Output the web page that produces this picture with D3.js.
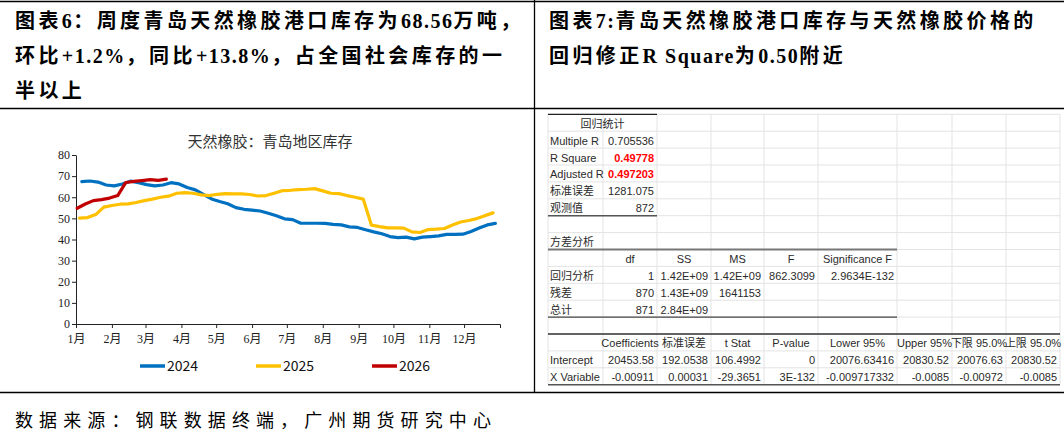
<!DOCTYPE html>
<html>
<head>
<meta charset="utf-8">
<script src="https://cdn.jsdelivr.net/npm/d3@7"></script>
<style>
  body { margin: 0; background: #fff; }
  svg { display: block; }
</style>
</head>
<body>
<div id="page"></div>
<script>
// ---- text of the two panels ----
var leftTitle = ["图表6：周度青岛天然橡胶港口库存为68.56万吨，",
                 "环比+1.2%，同比+13.8%，占全国社会库存的一",
                 "半以上"];
var rightTitle = ["图表7:青岛天然橡胶港口库存与天然橡胶价格的",
                  "回归修正R Square为0.50附近"];
var sourceNote = "数据来源：钢联数据终端，广州期货研究中心";

// ---- left chart: weekly Qingdao stock, 万吨 ----
var chartTitle = "天然橡胶：青岛地区库存";
var monthLabels = ["1月","2月","3月","4月","5月","6月","7月","8月","9月","10月","11月","12月"];
var monthStarts = [0, 31, 60, 91, 121, 152, 182, 213, 244, 274, 305, 335];
var seriesNames = ["2024", "2025", "2026"];
var seriesStart = ["2024-01-06", "2025-01-04", "2026-01-02"];
var stock2024 = [67.4, 67.7, 67.2, 65.8, 65.4, 66.3, 67.6, 66.9, 66.0, 65.4, 65.8, 66.9, 66.3,
                 64.6, 63.5, 61.4, 59.2, 58.0, 56.9, 55.1, 54.3, 53.9, 53.5, 52.4, 51.2, 49.8,
                 49.4, 47.7, 47.7, 47.7, 47.6, 47.2, 46.9, 46.0, 45.7, 44.6, 43.6, 42.7, 41.4,
                 40.9, 41.1, 40.3, 41.1, 41.4, 41.7, 42.4, 42.4, 42.5, 43.8, 45.4, 46.9, 47.6];
var stock2025 = [50.1, 50.4, 51.8, 55.3, 56.1, 56.7, 56.9, 57.5, 58.4, 59.1, 60.0, 60.5, 61.9,
                 62.2, 61.9, 61.1, 60.8, 61.4, 61.7, 61.6, 61.6, 61.3, 60.6, 60.8, 61.9, 63.1,
                 63.3, 63.6, 63.8, 64.1, 63.0, 61.9, 61.7, 60.8, 60.0, 59.1, 46.8, 46.1, 45.5,
                 45.5, 45.4, 43.6, 43.3, 44.7, 44.9, 45.2, 46.9, 48.3, 49.0, 49.9, 51.3, 52.6];
var stock2026 = [54.8, 56.8, 58.4, 58.9, 59.6, 60.8, 67.0, 67.5, 67.9, 68.3, 68.0, 68.56];

// ---- right panel: Excel regression output ----
var regStatHeader = "回归统计";
var regStatLabels = ["Multiple R", "R Square", "Adjusted R", "标准误差", "观测值"];
var regStatValues = ["0.705536", "0.49778", "0.497203", "1281.075", "872"];
var anovaTitle = "方差分析";
var anovaHeader = ["df", "SS", "MS", "F", "Significance F"];
var anovaLabels = ["回归分析", "残差", "总计"];
var anovaValues = [["1", "1.42E+09", "1.42E+09", "862.3099", "2.9634E-132"],
                   ["870", "1.43E+09", "1641153", "", ""],
                   ["871", "2.84E+09", "", "", ""]];
var coefHeader = ["Coefficients", "标准误差", "t Stat", "P-value", "Lower 95%", "Upper 95%", "下限 95.0%", "上限 95.0%"];
var coefLabels = ["Intercept", "X Variable 1"];
var coefValues = [["20453.58", "192.0538", "106.4992", "0", "20076.63416", "20830.52", "20076.63", "20830.52"],
                  ["-0.00911", "0.00031", "-29.3651", "3E-132", "-0.009717332", "-0.0085", "-0.00972", "-0.0085"]];

var W = 1064, H = 435;
var svg = d3.select("#page").append("svg")
  .attr("width", W).attr("height", H);

// frame lines
var frame = svg.append("g").attr("stroke", "#000").attr("stroke-width", 1.3);
frame.append("line").attr("x1", 0).attr("x2", W).attr("y1", 1.5).attr("y2", 1.5);
frame.append("line").attr("x1", 0).attr("x2", W).attr("y1", 108.5).attr("y2", 108.5);
frame.append("line").attr("x1", 0).attr("x2", W).attr("y1", 392.5).attr("y2", 392.5);
frame.append("line").attr("x1", 534.5).attr("x2", 534.5).attr("y1", 0).attr("y2", 392.5);

// panel titles: CJK runs spaced wider than latin runs
var titleFont = "'Liberation Serif', 'Noto Sans CJK SC', serif";
function spacedText(sel, cjkSpace, latinSpace) {
  sel.each(function(d) {
    var runs = d.split(/([\u0000-\u00ff]+)/).filter(function(s) { return s.length; });
    d3.select(this).selectAll("tspan").data(runs).join("tspan")
      .attr("letter-spacing", function(s) { return /^[\u0000-\u00ff]+$/.test(s) ? latinSpace : cjkSpace; })
      .text(function(s) { return s; });
  });
}
svg.append("g").selectAll("text").data(leftTitle).join("text")
  .attr("x", 15).attr("y", function(d, i) { return 28 + i * 35; })
  .attr("font-family", titleFont).attr("font-size", 20).attr("font-weight", "bold")
  .attr("fill", "#000")
  .call(spacedText, 3.4, 1.5);
svg.append("g").selectAll("text").data(rightTitle).join("text")
  .attr("x", 549).attr("y", function(d, i) { return 28 + i * 35; })
  .attr("font-family", titleFont).attr("font-size", 20).attr("font-weight", "bold")
  .attr("fill", "#000")
  .call(spacedText, 3.4, 1.5);
svg.append("text")
  .attr("x", 15).attr("y", 427)
  .attr("font-family", titleFont).attr("font-size", 18)
  .attr("letter-spacing", 6.1).attr("fill", "#000")
  .text(sourceNote);

// ---------------- left line chart ----------------
var x = d3.scaleLinear().domain([0, 366]).range([76, 500]);
var y = d3.scaleLinear().domain([0, 80]).range([324, 155]);

var chart = svg.append("g");

chart.append("text")
  .attr("x", 270).attr("y", 147)
  .attr("text-anchor", "middle")
  .attr("font-family", "'Noto Sans CJK SC', sans-serif").attr("font-size", 15)
  .attr("fill", "#333")
  .text(chartTitle);

var xAxis = d3.axisBottom(x)
  .tickValues(monthStarts)
  .tickFormat(function(d, i) { return monthLabels[i]; })
  .tickSize(4).tickSizeOuter(4).tickPadding(6);
var yAxis = d3.axisLeft(y).ticks(8).tickSize(4).tickSizeOuter(0).tickPadding(2);

var gx = chart.append("g").attr("transform", "translate(0,324)").call(xAxis);
var gy = chart.append("g").attr("transform", "translate(76,0)").call(yAxis);
[gx, gy].forEach(function(g) {
  g.selectAll("path, line").attr("stroke", "#222").attr("stroke-width", 1);
  g.selectAll("text").attr("font-family", "'Liberation Serif', 'Noto Sans CJK SC', serif")
    .attr("font-size", 12).attr("fill", "#222");
});

var colors = ["#0070C0", "#FFC000", "#C00000"];
var allStock = [stock2024, stock2025, stock2026];
var series = allStock.map(function(vals, k) {
  var start = d3.timeParse("%Y-%m-%d")(seriesStart[k]);
  return vals.map(function(v, i) {
    var dt = d3.timeDay.offset(start, 7 * i);
    return { day: d3.timeDay.count(d3.timeYear(dt), dt), value: v };
  });
});

var line = d3.line()
  .x(function(d) { return x(d.day); })
  .y(function(d) { return y(d.value); });

chart.append("g").selectAll("path").data(series).join("path")
  .attr("d", line)
  .attr("fill", "none")
  .attr("stroke", function(d, i) { return colors[i]; })
  .attr("stroke-width", 3.2)
  .attr("stroke-linejoin", "round")
  .attr("stroke-linecap", "round");

// legend
var legend = chart.append("g").selectAll("g").data(seriesNames).join("g")
  .attr("transform", function(d, i) { return "translate(" + (140 + i * 116) + ",366)"; });
legend.append("line")
  .attr("x1", 0).attr("x2", 25).attr("y1", 0).attr("y2", 0)
  .attr("stroke", function(d, i) { return colors[i]; })
  .attr("stroke-width", 3.5);
legend.append("text")
  .attr("x", 27).attr("y", 5)
  .attr("font-family", "'Noto Sans CJK SC', sans-serif").attr("font-size", 14)
  .attr("fill", "#111")
  .text(function(d) { return d; });

// ---------------- right regression table ----------------
var colW = [55, 54, 54, 53, 54, 79, 55, 54, 54];
var colX = [548];
colW.forEach(function(w, i) { colX.push(colX[i] + w); });
var rowH = 16.9, top0 = 114.3, nRows = 16;
function rowY(r) { return top0 + r * rowH; }

var tbl = svg.append("g");
// light grid
tbl.append("g").selectAll("line").data(d3.range(nRows + 1)).join("line")
  .attr("x1", colX[0]).attr("x2", colX[colX.length - 1])
  .attr("y1", function(r) { return rowY(r); }).attr("y2", function(r) { return rowY(r); })
  .attr("stroke", "#e3e3e3").attr("stroke-width", 1);
tbl.append("g").selectAll("line").data(colX).join("line")
  .attr("x1", function(d) { return d; }).attr("x2", function(d) { return d; })
  .attr("y1", top0).attr("y2", rowY(nRows))
  .attr("stroke", "#e3e3e3").attr("stroke-width", 1);

// table borders as in the Excel output
var borders = [
  { r: 0, c0: 0, c1: 2, color: "#222", w: 1.3 },
  { r: 6, c0: 0, c1: 2, color: "#555", w: 1.6 },
  { r: 8, c0: 0, c1: 6, color: "#777", w: 1.8 },
  { r: 12, c0: 0, c1: 6, color: "#444", w: 1.3 },
  { r: 13, c0: 0, c1: 9, color: "#333", w: 1.3 },
  { r: 16, c0: 0, c1: 9, color: "#555", w: 1.6 }
];
tbl.append("g").selectAll("line").data(borders).join("line")
  .attr("x1", function(d) { return colX[d.c0]; }).attr("x2", function(d) { return colX[d.c1]; })
  .attr("y1", function(d) { return rowY(d.r); }).attr("y2", function(d) { return rowY(d.r); })
  .attr("stroke", function(d) { return d.color; }).attr("stroke-width", function(d) { return d.w; });

// cells
var cells = [];
cells.push({ r: 0, c: 0, span: 2, t: regStatHeader, a: "middle" });
regStatLabels.forEach(function(t, i) {
  cells.push({ r: 1 + i, c: 0, t: t, a: "start" });
  cells.push({ r: 1 + i, c: 1, t: regStatValues[i], a: "end", red: (i === 1 || i === 2) });
});
cells.push({ r: 7, c: 0, t: anovaTitle, a: "start" });
anovaHeader.forEach(function(t, i) { cells.push({ r: 8, c: 1 + i, t: t, a: "middle" }); });
anovaLabels.forEach(function(t, i) {
  cells.push({ r: 9 + i, c: 0, t: t, a: "start" });
  anovaValues[i].forEach(function(v, j) { cells.push({ r: 9 + i, c: 1 + j, t: v, a: "end" }); });
});
coefHeader.forEach(function(t, i) { cells.push({ r: 13, c: 1 + i, t: t, a: "middle" }); });
coefLabels.forEach(function(t, i) {
  cells.push({ r: 14 + i, c: 0, t: t, a: "start", clip: true });
  coefValues[i].forEach(function(v, j) { cells.push({ r: 14 + i, c: 1 + j, t: v, a: "end" }); });
});

svg.append("defs").append("clipPath").attr("id", "colA")
  .append("rect").attr("x", colX[0]).attr("y", top0).attr("width", colW[0] - 1).attr("height", rowH * nRows);

tbl.append("g").selectAll("text").data(cells).join("text")
  .attr("x", function(d) {
    var span = d.span || 1;
    if (d.a === "start") return colX[d.c] + 2;
    if (d.a === "end") return colX[d.c + span] - 3;
    return (colX[d.c] + colX[d.c + span]) / 2;
  })
  .attr("y", function(d) { return rowY(d.r) + rowH - 3.5; })
  .attr("text-anchor", function(d) { return d.a; })
  .attr("clip-path", function(d) { return d.clip ? "url(#colA)" : null; })
  .attr("font-family", "'Liberation Sans', 'Noto Sans CJK SC', sans-serif")
  .attr("font-size", 11)
  .attr("font-weight", function(d) { return d.red ? "bold" : "normal"; })
  .attr("fill", function(d) { return d.red ? "#ff0000" : "#2a2a2a"; })
  .text(function(d) { return d.t; });
</script>
</body>
</html>
